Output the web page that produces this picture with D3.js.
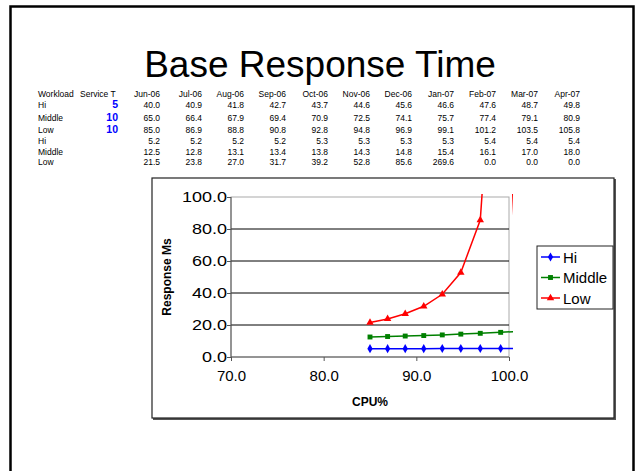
<!DOCTYPE html>
<html>
<head>
<meta charset="utf-8">
<script src="https://cdn.jsdelivr.net/npm/d3@7"></script>
<style>
	body { margin: 0; background: #fff; }
	text { font-family: "Liberation Sans", Arial, sans-serif; }
</style>
</head>
<body>
<div id="chart"></div>
<script>
// table data
const months = ["Jun-06","Jul-06","Aug-06","Sep-06","Oct-06","Nov-06","Dec-06","Jan-07","Feb-07","Mar-07","Apr-07"];
const workloads = ["Hi","Middle","Low"];
const serviceT = [5, 10, 10];
const utilHi = [40.0,40.9,41.8,42.7,43.7,44.6,45.6,46.6,47.6,48.7,49.8];
const utilMiddle = [65.0,66.4,67.9,69.4,70.9,72.5,74.1,75.7,77.4,79.1,80.9];
const utilLow = [85.0,86.9,88.8,90.8,92.8,94.8,96.9,99.1,101.2,103.5,105.8];
const respHi = [5.2,5.2,5.2,5.2,5.3,5.3,5.3,5.3,5.4,5.4,5.4];
const respMiddle = [12.5,12.8,13.1,13.4,13.8,14.3,14.8,15.4,16.1,17.0,18.0];
const respLow = [21.5,23.8,27.0,31.7,39.2,52.8,85.6,269.6,0.0,0.0,0.0];
const xTicks = [70, 80, 90, 100];
const yTicks = [0, 20, 40, 60, 80, 100];

const width = 640, height = 471;
const svg = d3.select("#chart").append("svg")
	.attr("width", width).attr("height", height);

// slide frame
svg.append("rect").attr("x", 10.5).attr("y", 6.5).attr("width", 623).attr("height", 480)
	.attr("fill", "none").attr("stroke", "#000").attr("stroke-width", 2.5);

svg.append("text").attr("x", 320).attr("y", 77).attr("text-anchor", "middle")
	.attr("font-size", 37).text("Base Response Time");

// table
const colRight = months.map((m, i) => 160 + i * 42);
const rowY = [108, 121, 133, 144, 155, 165];
const tbl = svg.append("g").attr("font-size", 8.5).attr("fill", "#000");
tbl.append("text").attr("x", 38).attr("y", 97).text("Workload");
tbl.append("text").attr("x", 80).attr("y", 97).text("Service T");
months.forEach((m, i) => {
	tbl.append("text").attr("x", colRight[i]).attr("y", 97).attr("text-anchor", "end").text(m);
});
const rows = [
	[workloads[0], serviceT[0], utilHi],
	[workloads[1], serviceT[1], utilMiddle],
	[workloads[2], serviceT[2], utilLow],
	[workloads[0], null, respHi],
	[workloads[1], null, respMiddle],
	[workloads[2], null, respLow]
];
rows.forEach((r, j) => {
	tbl.append("text").attr("x", 38).attr("y", rowY[j]).text(r[0]);
	if (r[1] !== null) {
		tbl.append("text").attr("x", 118).attr("y", rowY[j]).attr("text-anchor", "end")
			.attr("font-size", 10.5).attr("font-weight", "bold").attr("fill", "#0000ff").text(r[1]);
	}
	r[2].forEach((v, i) => {
		tbl.append("text").attr("x", colRight[i]).attr("y", rowY[j]).attr("text-anchor", "end")
			.text(v.toFixed(1));
	});
});

// chart box
svg.append("rect").attr("x", 153).attr("y", 179).attr("width", 463).attr("height", 241)
	.attr("fill", "#555");
svg.append("rect").attr("x", 152).attr("y", 178).attr("width", 462).attr("height", 240)
	.attr("fill", "#fff").attr("stroke", "#222").attr("stroke-width", 1.2);

const pLeft = 231, pRight = 509, pTop = 197, pBottom = 357;
const x = d3.scaleLinear().domain([70, 100]).range([pLeft, pRight]);
const y = d3.scaleLinear().domain([0, 100]).range([pBottom, pTop]);

// plot area border
svg.append("rect").attr("x", pLeft).attr("y", pTop).attr("width", pRight - pLeft).attr("height", pBottom - pTop)
	.attr("fill", "none").attr("stroke", "#aaa").attr("stroke-width", 1);

// gridlines
svg.append("g").selectAll("line").data(yTicks.filter(d => d > 0 && d < 100)).join("line")
	.attr("x1", pLeft).attr("x2", pRight).attr("y1", d => y(d)).attr("y2", d => y(d))
	.attr("stroke", "#000").attr("stroke-width", 1);

// axes
const xAxis = svg.append("g").attr("transform", `translate(0,${pBottom})`)
	.call(d3.axisBottom(x).tickValues(xTicks).tickSize(4).tickPadding(9).tickFormat(d3.format(".1f")));
xAxis.selectAll("text").attr("font-size", 15).attr("fill", "#000")
	.style("font-family", '"Liberation Sans", Arial, sans-serif');
xAxis.selectAll("line, path").attr("stroke", "#555");
xAxis.select("path").attr("d", `M${pLeft},0H${pRight}`);

const yAxis = svg.append("g").attr("transform", `translate(${pLeft},0)`)
	.call(d3.axisLeft(y).tickValues(yTicks).tickSize(4).tickPadding(4).tickFormat(d3.format(".1f")));
yAxis.selectAll(".tick text").each(function() {
	const t = d3.select(this);
	t.attr("font-size", 15).attr("fill", "#000")
		.style("font-family", '"Liberation Sans", Arial, sans-serif')
		.attr("x", 0)
		.attr("transform", "translate(-4,0) scale(1.2,1)");
});
yAxis.selectAll("line, path").attr("stroke", "#555");
yAxis.select("path").attr("d", `M0,${pBottom}V${pTop}`);

svg.append("text").attr("x", 370).attr("y", 406).attr("text-anchor", "middle")
	.attr("font-size", 12).attr("font-weight", "bold").text("CPU%");
svg.append("text").attr("transform", "translate(171,277) rotate(-90)").attr("text-anchor", "middle")
	.attr("font-size", 12).attr("font-weight", "bold").text("Response Ms");

// series
svg.append("clipPath").attr("id", "plotclip").append("rect")
	.attr("x", pLeft).attr("y", pTop - 3).attr("width", pRight - pLeft + 4).attr("height", pBottom - pTop + 3);

const series = [
	{ name: "Hi", values: respHi, color: "#0000ff", symbol: d3.symbolDiamond, size: 24 },
	{ name: "Middle", values: respMiddle, color: "#008000", symbol: d3.symbolSquare, size: 24 },
	{ name: "Low", values: respLow, color: "#ff0000", symbol: d3.symbolTriangle, size: 24 }
];

const line = d3.line().x(d => x(d[0])).y(d => y(d[1]));
const plot = svg.append("g").attr("clip-path", "url(#plotclip)");
series.forEach(s => {
	const pts = utilLow.map((u, i) => [u, s.values[i]]);
	plot.append("path").datum(pts).attr("d", line)
		.attr("fill", "none").attr("stroke", s.color).attr("stroke-width", 1.5);
	plot.selectAll(null).data(pts.filter(p => p[0] <= 100 && p[1] <= 100)).join("path")
		.attr("transform", p => `translate(${x(p[0])},${y(p[1])})`)
		.attr("d", d3.symbol(s.symbol, s.size)).attr("fill", s.color);
});

// legend
const lg = svg.append("g");
lg.append("rect").attr("x", 537).attr("y", 246).attr("width", 76).attr("height", 63)
	.attr("fill", "#fff").attr("stroke", "#222").attr("stroke-width", 1);
series.forEach((s, i) => {
	const ly = 257 + i * 20.5;
	lg.append("line").attr("x1", 541).attr("x2", 560).attr("y1", ly).attr("y2", ly)
		.attr("stroke", s.color).attr("stroke-width", 1.5);
	lg.append("path").attr("transform", `translate(550.5,${ly})`)
		.attr("d", d3.symbol(s.symbol, s.size)).attr("fill", s.color);
	lg.append("text").attr("x", 563).attr("y", ly + 5.5).attr("font-size", 15).text(s.name);
});
</script>
</body>
</html>
